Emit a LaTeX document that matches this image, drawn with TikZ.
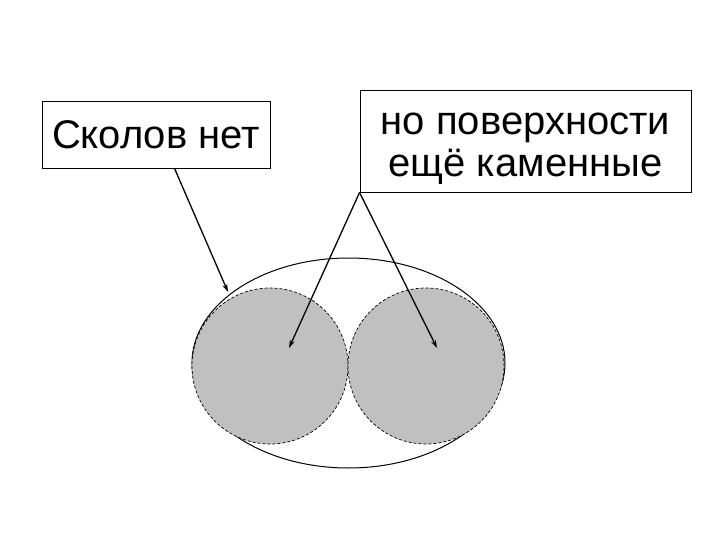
\documentclass[tikz,border=0pt]{standalone}
\usepackage{fontspec}
\setmainfont{Liberation Sans}
\usetikzlibrary{arrows.meta,shapes.geometric}
\definecolor{stonegray}{RGB}{192,192,192}
\tikzset{
  labelbox/.style={draw=black, line width=0.9pt, fill=white, inner sep=0pt, align=center,
    font=\fontsize{40}{42}\selectfont},
  pointer/.style={draw=black, line width=1.3pt, -{Stealth[length=8pt,width=5pt]}},
  stone/.style={fill=stonegray, draw=black, line width=0.7pt, dash pattern=on 3pt off 2pt},
  outline/.style={draw=black, line width=1pt}
}
\begin{document}
\begin{tikzpicture}[x=1pt,y=-1pt]
\useasboundingbox (0,0) rectangle (720,540);
\fill[white] (0,0) rectangle (720,540);
% outer ellipse
\node[outline, ellipse, minimum width=313pt, minimum height=210pt, inner sep=0pt] (shell) at (348.5,363) {};
% two stones
\node[stone, circle, minimum size=156pt, inner sep=0pt] (lstone) at (270,366) {};
\node[stone, circle, minimum size=156pt, inner sep=0pt] (rstone) at (426,366) {};
% label boxes
\node[labelbox, minimum width=228pt, minimum height=67pt] (box1) at (156,134.5) {Сколов нет};
\node[labelbox, minimum width=331pt, minimum height=102pt, text height=80pt, text depth=8pt] (box2) at (525.5,141) {но поверхности\\ещё каменные};
% arrow tips
\coordinate (tip1) at (228,292);
\coordinate (tip2) at (289,348);
\coordinate (tip3) at (437,348);
\coordinate (start1) at ([xshift=133pt]box1.south west);
\draw[pointer] (start1) -- (tip1);
\draw[pointer] (box2.south west) -- (tip2);
\draw[pointer] (box2.south west) -- (tip3);
\end{tikzpicture}
\end{document}
